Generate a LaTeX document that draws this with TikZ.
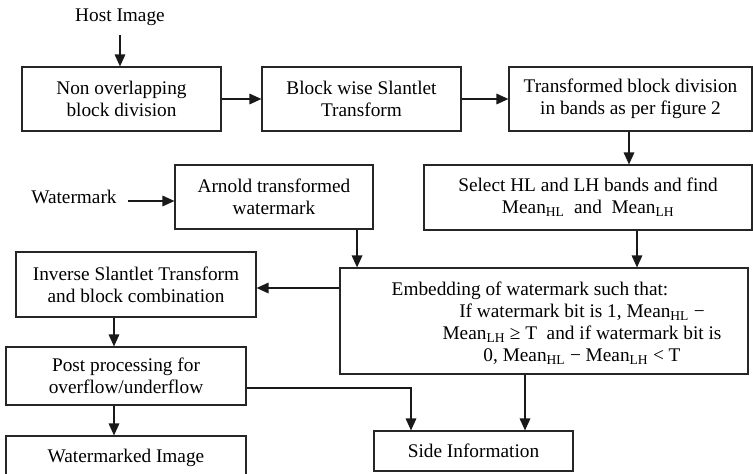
\documentclass[tikz,border=0pt]{standalone}
\usepackage{fontspec}
\setmainfont{Liberation Serif}
\usetikzlibrary{arrows.meta,calc}
\newcommand{\mainfs}{\fontsize{19.3}{22}\selectfont}
\newcommand{\mn}[1]{Mean\textsubscript{#1}}
\begin{document}
\begin{tikzpicture}[x=1pt,y=-1pt,
  box/.style 2 args={draw=black!85,line width=1.1pt,minimum width=#1,minimum height=#2,inner sep=0pt,align=center,font=\mainfs},
  lbl/.style={font=\mainfs,align=center},
  arr/.style={-{Triangle[length=12pt,width=10.5pt]},line width=1.6pt,draw=black!90}]
\useasboundingbox (0,0) rectangle (753,474);
\clip (0,0) rectangle (753,474);
\node[lbl] (host) at (120,17) {Host Image};
\node[box={199pt}{64pt}] (box1) at (121.5,99) {Non overlapping\\block division};
\node[box={199pt}{64pt}] (box2) at (361.5,99) {Block wise Slantlet\\Transform};
\node[box={243pt}{64pt}] (box3) at (630.5,99) {Transformed block division\\in bands as per figure 2};
\node[lbl] (wm) at (74,197) {Watermark};
\node[box={198pt}{64pt}] (arnold) at (274,197) {Arnold transformed\\watermark};
\node[box={328pt}{65pt}] (select) at (588,197.5) {Select HL and LH bands and find\\\mn{HL}\ \ and\ \ \mn{LH}};
\node[box={408pt}{106pt}] (emb) at (544,321) {};
\node[lbl] (embtxt) at (582,323) {Embedding of watermark such that:\hspace*{104pt}\\If watermark bit is 1,\ \mn{HL} −\\\mn{LH} ≥ T\ \ and if watermark bit is\\0,\ \mn{HL} − \mn{LH} < T};
\node[box={240pt}{65pt}] (inv) at (136,284.5) {Inverse Slantlet Transform\\and block combination};
\node[box={240pt}{58pt}] (post) at (126,376) {Post processing for\\overflow/underflow};
\node[box={240pt}{44pt}] (wmk) at (126,458) {Watermarked Image};
\node[box={199pt}{40pt}] (side) at (473.5,451) {Side Information};
\coordinate (colx) at (114,0);
\draw[arr,shorten <=6pt] (host.south) -- (host.south |- box1.north);
\draw[arr] (box1) -- (box2);
\draw[arr] (box2) -- (box3);
\draw[arr] ([xshift=-1.5pt]box3.south) -- ([xshift=-1.5pt]box3.south |- select.north);
\draw[arr,shorten <=8pt] ([yshift=-4pt]wm.east) -- ([yshift=-4pt]wm.east -| arnold.west);
\draw[arr] ([xshift=-16.5pt]arnold.south east) -- ([xshift=-16.5pt]arnold.south east |- emb.north);
\draw[arr] ([xshift=49pt]select.south) -- ([xshift=49pt]select.south |- emb.north);
\draw[arr] ([yshift=33pt]emb.west) -- ([yshift=33pt]emb.west -| inv.east);
\draw[arr] (inv.south -| colx) -- (post.north -| colx);
\draw[arr] (post.south -| colx) -- (wmk.north -| colx);
\draw[arr] ([yshift=-12pt]post.east) -| ([xshift=-62.5pt]side.north);
\draw[arr] ([xshift=-19pt]emb.south) -- ([xshift=-19pt]emb.south |- side.north);
\end{tikzpicture}
\end{document}
